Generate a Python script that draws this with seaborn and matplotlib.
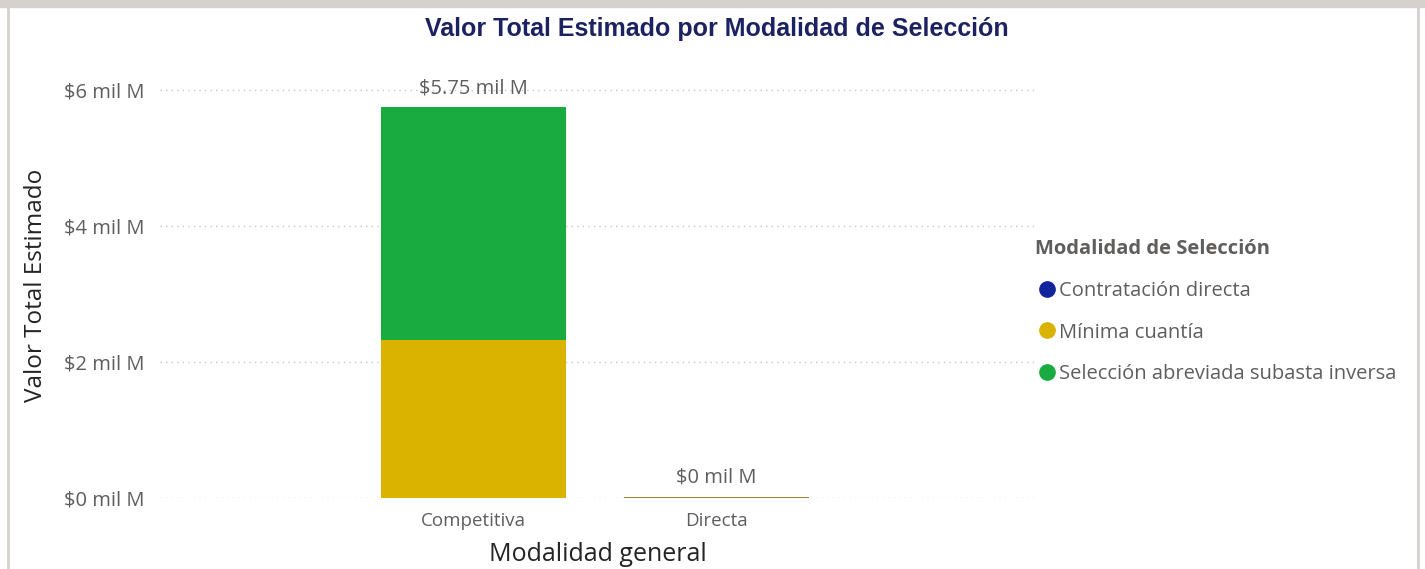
"""
Valor total estimado por modalidad de selección, barras apiladas.
"""

import pandas as pd
import seaborn as sns
import matplotlib.pyplot as plt
from matplotlib.lines import Line2D

# datos en "mil M" (miles de millones)
modalidad_general = ['Competitiva', 'Directa']
modalidad_seleccion = ['Contratación directa', 'Mínima cuantía', 'Selección abreviada subasta inversa']
valor_contratacion_directa = [0.0, 0.02]
valor_minima_cuantia = [2.33, 0.0]
valor_seleccion_abreviada = [3.42, 0.0]
colores = ['#12239e', '#d9b300', '#1aab40']

sns.set_theme(style='white')
plt.rcParams['font.family'] = ['Open Sans', 'DejaVu Sans']

gris = '#605e5c'

df = pd.DataFrame({
    'modalidad': modalidad_general,
    'Contratación directa': valor_contratacion_directa,
    'Mínima cuantía': valor_minima_cuantia,
    'Selección abreviada subasta inversa': valor_seleccion_abreviada,
})
# acumulados para apilar
acum = df[modalidad_seleccion].cumsum(axis=1)
acum['modalidad'] = df['modalidad']

fig = plt.figure(figsize=(14.25, 5.69), dpi=100)
ax = fig.add_axes([160 / 1425, 71 / 569, 875 / 1425, 6.25 * 68 / 569])

# dibujar de arriba hacia abajo
for nivel, color in reversed(list(zip(modalidad_seleccion, colores))):
    sns.barplot(data=acum, x='modalidad', y=nivel, order=modalidad_general,
                color=color, width=0.76, saturation=1, linewidth=0,
                alpha=1 if nivel != modalidad_seleccion[0] else 0.3, ax=ax, zorder=3)

ax.set_xlim(-1.29, 2.31)
ax.set_ylim(0, 6.25)
ax.set_yticks([0, 2, 4, 6])
ax.set_yticklabels([f'${v} mil M' for v in [0, 2, 4, 6]])
ax.grid(axis='y', linestyle=(0, (1, 3)), color='#c8c6c4', linewidth=1, zorder=0)
ax.set_axisbelow(True)
sns.despine(ax=ax, left=True, bottom=True)
ax.tick_params(axis='y', length=0, pad=11, labelsize=14.5, labelcolor=gris)
ax.tick_params(axis='x', length=0, pad=10, labelsize=13.5, labelcolor=gris)

ax.set_ylabel('Valor Total Estimado', fontsize=17.5, color='#252423', labelpad=12)
ax.set_xlabel('Modalidad general', fontsize=18, color='#252423', labelpad=9)

# etiquetas de total
totales = acum[modalidad_seleccion[-1]]
for i, tot in enumerate(totales):
    txt = f'${tot:.2f} mil M' if tot >= 0.5 else '$0 mil M'
    ax.text(i, tot + 0.13, txt, ha='center', va='bottom', fontsize=14.5, color=gris)

fig.suptitle('Valor Total Estimado por Modalidad de Selección', x=0.503, y=0.97,
             fontsize=18, fontweight='bold', color='#1b2161', family='Liberation Sans')

# leyenda
handles = [Line2D([0], [0], marker='o', linestyle='', markersize=11,
                  markerfacecolor=c, markeredgecolor=c) for c in colores]
leg = fig.legend(handles, modalidad_seleccion, title='Modalidad de Selección',
                 loc='upper left', bbox_to_anchor=(1035 / 1425, 1 - 239 / 569),
                 frameon=False, borderpad=0, borderaxespad=0,
                 handletextpad=0.0, handlelength=1.2,
                 labelspacing=1.08, fontsize=14.5, alignment='left')
leg.get_title().set_fontweight('bold')
leg.get_title().set_fontsize(14.5)
leg.get_title().set_color(gris)
for t in leg.get_texts():
    t.set_color(gris)

# marco del visual
borde = '#d5d1cc'
fig.add_artist(Line2D([0, 1], [1 - 4 / 569] * 2, color=borde, linewidth=6, transform=fig.transFigure))
fig.add_artist(Line2D([8 / 1425] * 2, [0, 1], color=borde, linewidth=2, transform=fig.transFigure))
fig.add_artist(Line2D([1418 / 1425] * 2, [0, 1], color=borde, linewidth=2, transform=fig.transFigure))

fig.savefig('out.png', dpi=100)
